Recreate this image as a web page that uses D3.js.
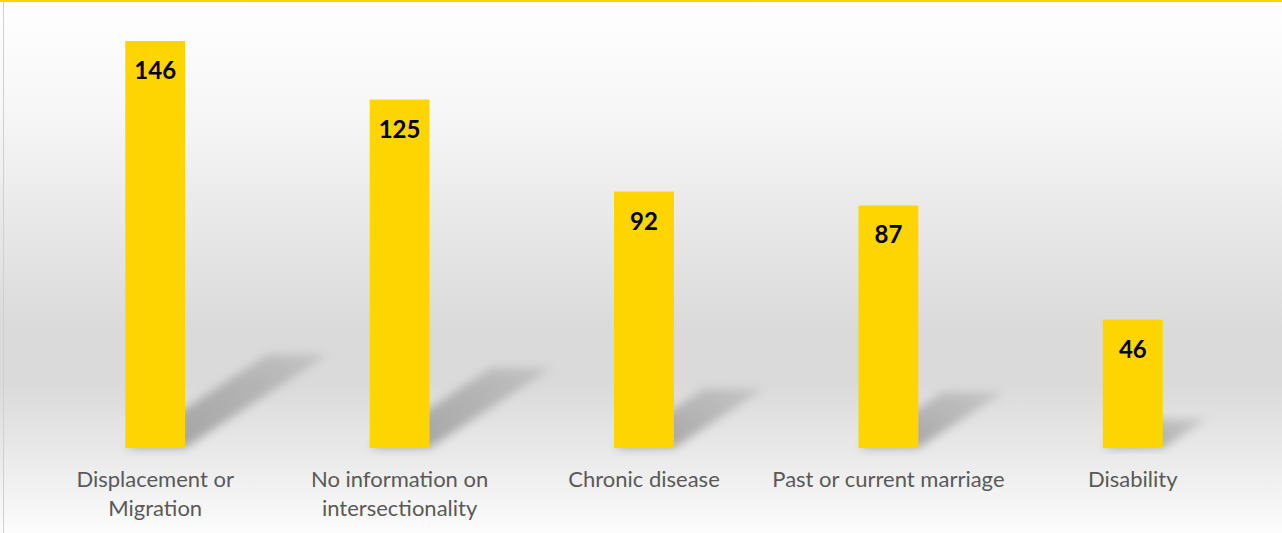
<!DOCTYPE html>
<html>
<head>
<meta charset="utf-8">
<script src="https://cdn.jsdelivr.net/npm/d3@7"></script>
<style>
  html, body { margin: 0; padding: 0; background: #fff; }
  svg { display: block; }
</style>
</head>
<body>
<svg id="chart"></svg>
<script>
// Chart data
const categories = [
  ['Displacement or', 'Migration'],
  ['No information on', 'intersectionality'],
  ['Chronic disease'],
  ['Past or current marriage'],
  ['Disability'],
];
const values = [146, 125, 92, 87, 46];

const width = 1282;
const height = 533;
const baseline = 448;

const svg = d3.select('#chart')
  .attr('width', width)
  .attr('height', height);

const defs = svg.append('defs');

// Background gradient: white -> light gray -> white
const bg = defs.append('linearGradient')
  .attr('id', 'bg')
  .attr('x1', 0).attr('y1', 0).attr('x2', 0).attr('y2', 1);
bg.append('stop').attr('offset', '0%').attr('stop-color', '#ffffff');
bg.append('stop').attr('offset', '20%').attr('stop-color', '#f7f7f7');
bg.append('stop').attr('offset', '62%').attr('stop-color', '#dadada');
bg.append('stop').attr('offset', '72%').attr('stop-color', '#dadada');
bg.append('stop').attr('offset', '88%').attr('stop-color', '#ededed');
bg.append('stop').attr('offset', '100%').attr('stop-color', '#fcfcfc');

// Shadow fades away from the bar foot
const sh = defs.append('linearGradient')
  .attr('id', 'shadow')
  .attr('x1', 0).attr('y1', 1).attr('x2', 1).attr('y2', 0);
sh.append('stop').attr('offset', '0%').attr('stop-color', '#000').attr('stop-opacity', 0.32);
sh.append('stop').attr('offset', '100%').attr('stop-color', '#000').attr('stop-opacity', 0.1);

defs.append('filter')
  .attr('id', 'blur')
  .attr('x', '-20%').attr('y', '-20%').attr('width', '140%').attr('height', '140%')
  .append('feGaussianBlur')
  .attr('stdDeviation', 5);

svg.append('rect')
  .attr('width', width)
  .attr('height', height)
  .attr('fill', 'url(#bg)');

// Frame: yellow top line and gray left edge
svg.append('line')
  .attr('x1', 0).attr('x2', width)
  .attr('y1', 1).attr('y2', 1)
  .attr('stroke', '#ffd200')
  .attr('stroke-width', 2);
svg.append('line')
  .attr('x1', 3.5).attr('x2', 3.5)
  .attr('y1', 2).attr('y2', height)
  .attr('stroke', '#d0d0d0')
  .attr('stroke-width', 1);

const x = d3.scaleBand()
  .domain(d3.range(values.length))
  .range([33, 1255])
  .paddingInner(0.755)
  .paddingOuter(0.3775);

const y = d3.scaleLinear()
  .domain([0, 146])
  .range([baseline, 41]);

// Perspective shadows behind the bars
svg.append('g')
  .selectAll('path')
  .data(values)
  .join('path')
  .attr('filter', 'url(#blur)')
  .attr('fill', 'url(#shadow)')
  .attr('d', (d, i) => {
    const h = baseline - y(d);
    const x0 = x(i);
    const x1 = x(i) + x.bandwidth();
    const dx = h * 0.35;
    const dy = h * 0.23;
    return `M${x0},${baseline} L${x1},${baseline} L${x1 + dx},${baseline - dy} L${x0 + dx},${baseline - dy} Z`;
  });

// Bars
svg.append('g')
  .selectAll('rect')
  .data(values)
  .join('rect')
  .attr('x', (d, i) => x(i))
  .attr('y', d => y(d))
  .attr('width', x.bandwidth())
  .attr('height', d => baseline - y(d))
  .attr('fill', '#ffd500');

// Value labels inside bars
svg.append('g')
  .selectAll('text')
  .data(values)
  .join('text')
  .attr('x', (d, i) => x(i) + x.bandwidth() / 2)
  .attr('y', d => y(d) + 38)
  .attr('text-anchor', 'middle')
  .attr('font-family', 'Lato, sans-serif')
  .attr('font-weight', 'bold')
  .attr('font-size', 24)
  .attr('fill', '#000')
  .text(d => d);

// Category labels
const labels = svg.append('g')
  .selectAll('text')
  .data(categories)
  .join('text')
  .attr('x', (d, i) => x(i) + x.bandwidth() / 2)
  .attr('y', 487)
  .attr('text-anchor', 'middle')
  .attr('font-family', 'Lato, sans-serif')
  .attr('font-size', 22)
  .attr('fill', '#595959');

labels.selectAll('tspan')
  .data(d => d)
  .join('tspan')
  .attr('x', function () { return d3.select(this.parentNode).attr('x'); })
  .attr('dy', (d, j) => (j === 0 ? 0 : 29))
  .text(d => d);
</script>
</body>
</html>
